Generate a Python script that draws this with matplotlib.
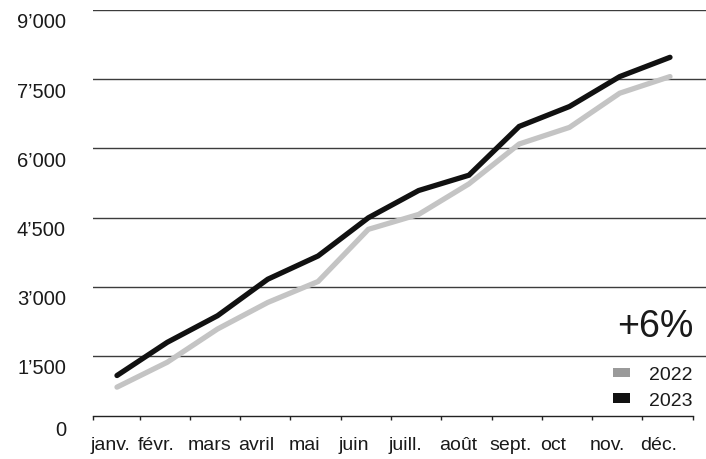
import matplotlib
matplotlib.use("Agg")
import matplotlib.pyplot as plt
from matplotlib.patches import Patch
from matplotlib.ticker import FixedLocator
import matplotlib.transforms as mtransforms

plt.rcParams['font.family'] = ['Liberation Sans', 'DejaVu Sans']

months = ["janv.", "févr.", "mars", "avril", "mai", "juin", "juill.", "août",
          "sept.", "oct", "nov.", "déc."]
values_2022 = [821, 1361, 2082, 2658, 3112, 4243, 4567, 5229, 6094, 6454, 7196, 7556]
values_2023 = [1073, 1793, 2370, 3162, 3666, 4494, 5085, 5417, 6475, 6907, 7556, 7974]
yticks = [0, 1500, 3000, 4500, 6000, 7500, 9000]
ytick_labels = ["0", "1’500", "3’000", "4’500", "6’000", "7’500", "9’000"]
annotation = "+6%"
series_names = ["2022", "2023"]
color_2022 = "#c4c4c4"
color_2023 = "#111111"

fig = plt.figure(figsize=(7.06, 4.60), dpi=100)
ax = fig.add_axes([93/706, 1 - 426/460, 1 - 93/706, (426 - 11)/460])

x = list(range(len(months)))
ax.plot(x, values_2022, color=color_2022, lw=3.8, solid_capstyle='round', solid_joinstyle='miter', zorder=3)
ax.plot(x, values_2023, color=color_2023, lw=3.8, solid_capstyle='round', solid_joinstyle='miter', zorder=4)

x_left = -0.477
ax.set_xlim(x_left, 11.716)
ax.set_ylim(0, 9000)

for yv in yticks[1:]:
    ax.axhline(yv, color="#3c3c3c", lw=1.0, zorder=1)

for s in ["top", "right", "left"]:
    ax.spines[s].set_visible(False)
boundaries = [x_left] + [i + 0.45 for i in range(len(months))]
ax.spines["bottom"].set_position(("outward", -6.5))
ax.spines["bottom"].set_bounds(boundaries[0], boundaries[-1])
ax.spines["bottom"].set_color("#222222")
ax.spines["bottom"].set_linewidth(1.0)

# y axis labels
ax.set_yticks(yticks)
ax.set_yticklabels(ytick_labels, fontsize=14.5, color="#1a1a1a")
ax.tick_params(axis="y", length=0, pad=19.5)
for lab, yv in zip(ax.get_yticklabels(), yticks):
    dy = -3/100 if yv == 0 else -10/100
    off = mtransforms.ScaledTranslation(0, dy, fig.dpi_scale_trans)
    lab.set_horizontalalignment("right")
    lab.set_transform(lab.get_transform() + off)

# x axis: ticks at month boundaries, labels left-aligned at ticks
ax.xaxis.set_major_locator(FixedLocator(boundaries))
ax.set_xticklabels(months + [""], fontsize=14, color="#1a1a1a")
ax.tick_params(axis="x", which="major", direction="out", length=3, width=1.0,
               color="#222222", pad=11.5)
xoff = mtransforms.ScaledTranslation(-2/100, 0, fig.dpi_scale_trans)
for lab in ax.get_xticklabels():
    lab.set_horizontalalignment("left")
    lab.set_transform(lab.get_transform() + xoff)

ax.text(0.979, 0.238, annotation, transform=ax.transAxes, ha="right", va="center",
        fontsize=27, color="#1a1a1a")

handles = [Patch(facecolor="#9a9a9a", edgecolor="none", label=series_names[0]),
           Patch(facecolor=color_2023, edgecolor="none", label=series_names[1])]
leg = ax.legend(handles=handles, loc="lower right", bbox_to_anchor=(0.978, 0.038),
                frameon=False, fontsize=14, handlelength=0.85, handleheight=0.38,
                handletextpad=1.0, labelspacing=0.45, borderaxespad=0,
                borderpad=0)
for t in leg.get_texts():
    t.set_color("#1a1a1a")

fig.savefig("out.png", dpi=100)
